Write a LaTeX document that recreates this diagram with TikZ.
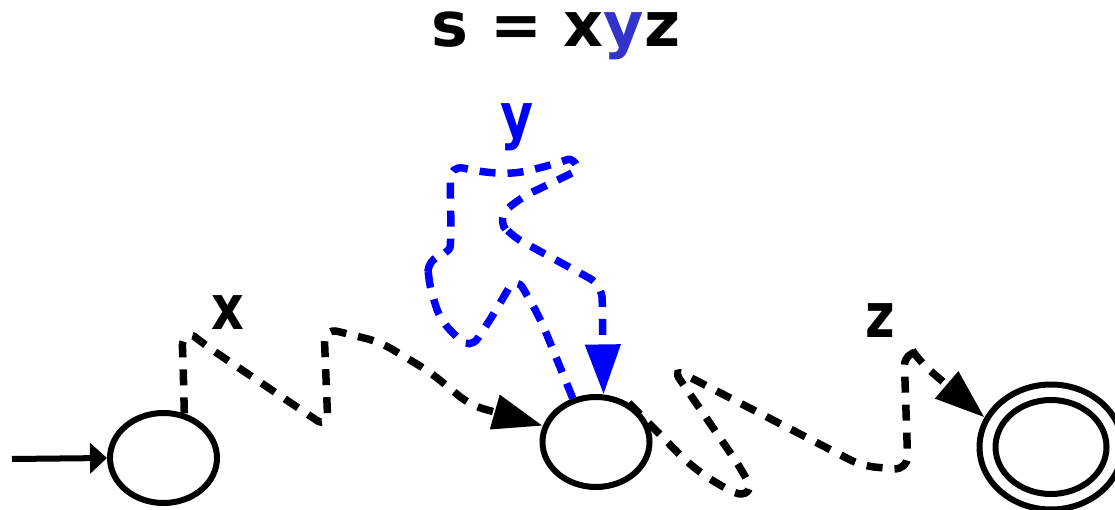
\documentclass[tikz,border=0pt]{standalone}
\usepackage{fontspec}
\usepackage{graphicx}
\setmainfont{DejaVu Sans}
\usetikzlibrary{shapes.geometric,arrows.meta}
\definecolor{ttlblue}{HTML}{3333CC}
\definecolor{pureblue}{HTML}{0000FF}
\begin{document}
\begin{tikzpicture}[x=1pt,y=-1pt,
  state/.style={ellipse,draw,line width=6pt,inner sep=0pt,minimum width=107pt,minimum height=90pt},
  walk/.style={line width=7.5pt,dash pattern=on 16pt off 12pt,rounded corners=14pt},
  bigtip/.style={-{Triangle[length=50pt,width=34pt]}},
  lbl/.style={font=\bfseries\fontsize{62}{62}\selectfont,anchor=base}
]
\useasboundingbox (0,0) rectangle (1115,510);

% title
\node[lbl] (title) at (556,47) {s = x\textcolor{ttlblue}{y}z};

% states
\node[state] (q0) at (163.5,458) {};
\node[state] (q1) at (596,442) {};
\node[state,minimum width=111pt,minimum height=94pt] (q2) at (1051,447) {};
\node[state,minimum width=143pt,minimum height=125pt] (q2o) at (1051,447) {};

% start arrow
\coordinate (start) at (12,459);
\draw[line width=6pt,-{Triangle[length=17pt,width=30pt]}] (start) -- (q0.west);

% labels
\node[lbl] (lx) at (228,329) {\scalebox{0.82}[1]{x}};
\node[lbl,text=pureblue] (ly) at (517,138) {\scalebox{0.82}[1]{y}};
\node[lbl] (lz) at (880,337) {\scalebox{0.82}[1]{z}};

% x path
\draw[walk,bigtip] (q0.65) -- (183,360) .. controls (182,338) and (190,333) .. (205,345)
  -- (328,428) -- (324,328)
  -- (380,342) -- (430,372) -- (470,405) -- (q1.163);

% y path
\draw[walk,bigtip,draw=pureblue,fill=none] (q1.118) -- (540,318) -- (516,276)
  -- (490,320) -- (470,350) -- (440,320) -- (428,280) -- (428,258)
  .. controls (438,256) and (450,252) .. (451,232)
  -- (450,165) -- (480,172) -- (515,174) -- (555,164)
  .. controls (572,158) and (582,168) .. (562,178)
  -- (520,198) -- (497,218)
  -- (510,235) -- (602,285) -- (q1.81);

% z path
\draw[walk,bigtip] (q1.50) -- (690,465) -- (722,487)
  .. controls (745,497) and (752,490) .. (742,470)
  -- (672,368) -- (862,466) -- (908,470) -- (904,352)
  .. controls (912,352) and (916,356) .. (920,362) -- (q2o.156);
\end{tikzpicture}
\end{document}
